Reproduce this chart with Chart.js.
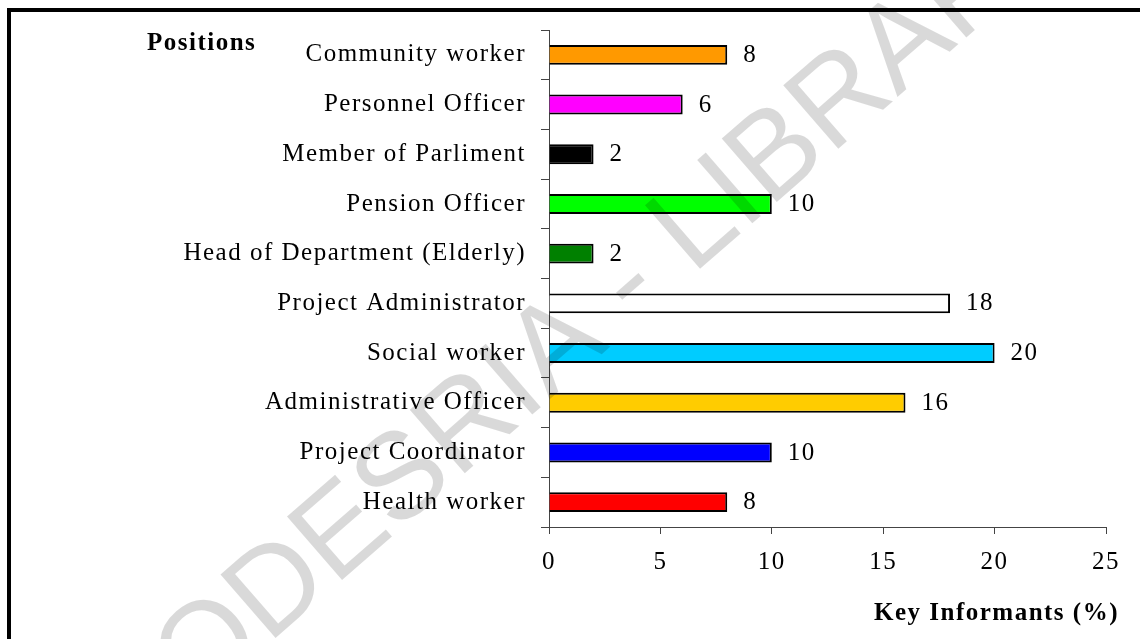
<!DOCTYPE html>
<html>
<head>
<meta charset="utf-8">
<script src="https://cdn.jsdelivr.net/npm/chart.js@4/dist/chart.umd.min.js"></script>
<style>
  html, body { margin: 0; padding: 0; background: #fff; }
  #wrap { position: relative; width: 1140px; height: 639px; overflow: hidden; }
  #wrap canvas { position: absolute; left: 0; top: 0; }
  #frame {
    position: absolute; left: 7px; top: 8px; width: 1200px; height: 700px;
    border-top: 4px solid #000; border-left: 4px solid #000; pointer-events: none;
  }
</style>
</head>
<body>
<div id="wrap">
  <canvas id="chart" width="1140" height="639"></canvas>
  <div id="frame"></div>
</div>
<script>
// Positions held by key informants, listed top to bottom
const positions = [
  'Community worker',
  'Personnel Officer',
  'Member of Parliment',
  'Pension Officer',
  'Head of Department (Elderly)',
  'Project Administrator',
  'Social worker',
  'Administrative Officer',
  'Project Coordinator',
  'Health worker'
];

// Share of key informants (%)
const informantsPct = [8, 6, 2, 10, 2, 18, 20, 16, 10, 8];

const barColours = [
  '#FF9900', '#FF00FF', '#000000', '#00FF00', '#008000',
  '#FFFFFF', '#00CCFF', '#FFCC00', '#0000FF', '#FF0000'
];

// Value axis range and step
const xMin = 0;
const xMax = 25;
const xStep = 5;

const yAxisTitle = 'Positions';
const xAxisTitle = 'Key Informants (%)';
const watermarkText = 'CODESRIA - LIBRARY';

const SERIF = "'Liberation Serif', 'Times New Roman', serif";
const SPACING = '1.5px';
const FONT_SIZE = 25;

// Wide-set serif lettering for every label the chart draws
const letterSpacingPlugin = {
  id: 'letterSpacing',
  beforeUpdate(chart) { chart.ctx.letterSpacing = SPACING; },
  beforeLayout(chart) { chart.ctx.letterSpacing = SPACING; },
  beforeDraw(chart) { chart.ctx.letterSpacing = SPACING; }
};

// Value printed just past the end of each bar
const valueLabelPlugin = {
  id: 'valueLabels',
  afterDatasetsDraw(chart) {
    const ctx = chart.ctx;
    const meta = chart.getDatasetMeta(0);
    ctx.save();
    ctx.letterSpacing = SPACING;
    ctx.font = FONT_SIZE + 'px ' + SERIF;
    ctx.fillStyle = '#000';
    ctx.textAlign = 'left';
    ctx.textBaseline = 'middle';
    meta.data.forEach((bar, i) => {
      ctx.fillText(String(informantsPct[i]), bar.x + 16, bar.y + 0.5);
    });
    ctx.restore();
  }
};

// Axis captions and the diagonal library stamp
const captionPlugin = {
  id: 'captions',
  afterDraw(chart) {
    const ctx = chart.ctx;
    ctx.save();
    ctx.letterSpacing = SPACING;
    ctx.font = 'bold ' + FONT_SIZE + 'px ' + SERIF;
    ctx.fillStyle = '#000';
    ctx.textBaseline = 'alphabetic';
    ctx.textAlign = 'left';
    ctx.fillText(yAxisTitle, 147, 50);
    ctx.textAlign = 'right';
    ctx.fillText(xAxisTitle, 1119, 620);
    ctx.restore();

    ctx.save();
    ctx.letterSpacing = '0px';
    const size = 122;
    ctx.font = size + "px 'Liberation Sans', Arial, sans-serif";
    const lead = ctx.measureText('CODESRIA ').width;
    const dash = ctx.measureText('-').width;
    ctx.translate(630, 286);
    ctx.rotate(-41 * Math.PI / 180);
    ctx.fillStyle = 'rgba(0, 0, 0, 0.15)';
    ctx.textAlign = 'left';
    ctx.textBaseline = 'alphabetic';
    ctx.fillText(watermarkText, -(lead + dash / 2), 0.27 * size);
    ctx.restore();
  }
};

new Chart(document.getElementById('chart'), {
  type: 'bar',
  data: {
    labels: positions,
    datasets: [{
      data: informantsPct,
      backgroundColor: barColours,
      borderColor: '#000',
      borderWidth: 2,
      barPercentage: 0.4,
      categoryPercentage: 1
    }]
  },
  options: {
    indexAxis: 'y',
    responsive: false,
    animation: false,
    layout: { padding: { left: 0, right: 34, top: 27, bottom: 0 } },
    plugins: {
      legend: { display: false },
      tooltip: { enabled: false }
    },
    scales: {
      x: {
        type: 'linear',
        min: xMin,
        max: xMax,
        ticks: {
          stepSize: xStep,
          color: '#000',
          font: { family: SERIF, size: FONT_SIZE },
          padding: 13
        },
        grid: { drawOnChartArea: false, drawTicks: true, tickLength: 7, color: '#444' },
        border: { display: true, color: '#444', width: 1 },
        afterFit(scale) { scale.height = 112; }
      },
      y: {
        ticks: {
          color: '#000',
          font: { family: SERIF, size: FONT_SIZE },
          padding: 15
        },
        grid: { drawOnChartArea: false, drawTicks: true, tickLength: 8, color: '#444', offset: true },
        border: { display: true, color: '#444', width: 1 },
        afterFit(scale) { scale.width = 549; }
      }
    }
  },
  plugins: [letterSpacingPlugin, valueLabelPlugin, captionPlugin]
});
</script>
</body>
</html>
